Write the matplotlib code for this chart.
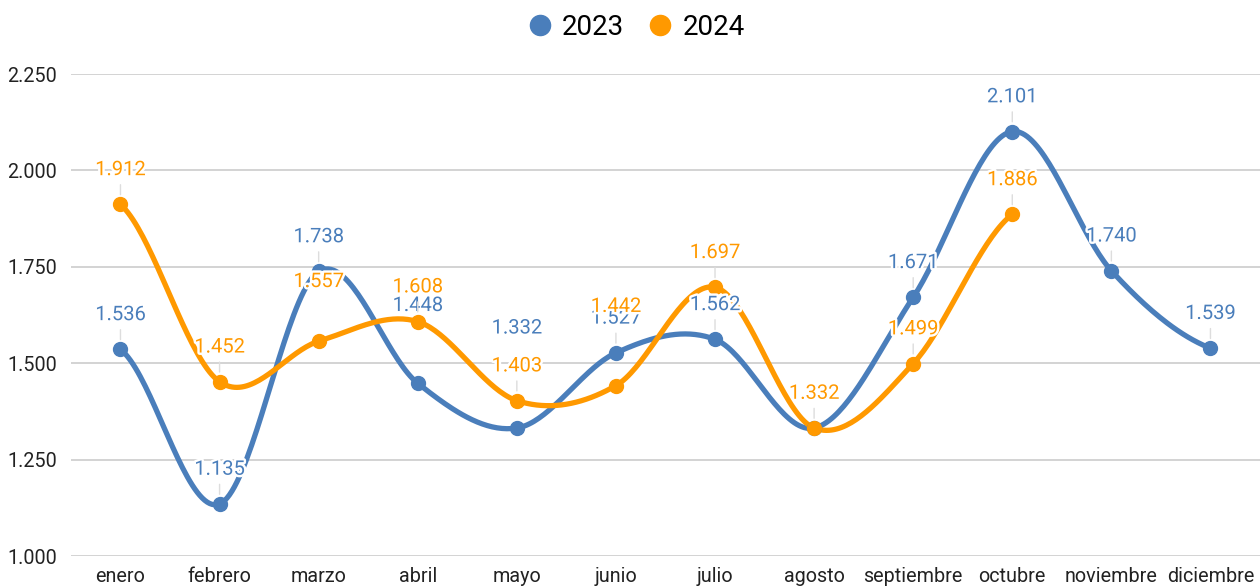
import numpy as np
import matplotlib.pyplot as plt
import matplotlib.patheffects as pe
from matplotlib.lines import Line2D

plt.rcParams["font.family"] = ["Roboto", "DejaVu Sans"]

meses = ["enero", "febrero", "marzo", "abril", "mayo", "junio", "julio",
         "agosto", "septiembre", "octubre", "noviembre", "diciembre"]
valores_2023 = [1536, 1135, 1738, 1448, 1332, 1527, 1562, 1332, 1671, 2101, 1740, 1539]
valores_2024 = [1912, 1452, 1557, 1608, 1403, 1442, 1697, 1332, 1499, 1886]
y_ticks = [1000, 1250, 1500, 1750, 2000, 2250]

AZUL = "#4a7ebb"
NARANJA = "#ff9900"

# etiquetas que el grafico original desplaza para evitar solapes (offset en pt)
desplazadas = {("2023", 3): 56, ("2023", 4): 72, ("2024", 2): 43, ("2024", 5): 57}
ocultas = {("2023", 7)}


def catmull_rom(y, pasos=40):
	"""suaviza una serie con un spline Catmull-Rom (en espacio de indices)"""
	y = np.asarray(y, dtype=float)
	p = np.concatenate([[y[0]], y, [y[-1]]])
	xs, ys = [], []
	for i in range(len(y) - 1):
		p0, p1, p2, p3 = p[i], p[i + 1], p[i + 2], p[i + 3]
		t = np.linspace(0, 1, pasos, endpoint=(i == len(y) - 2))
		yy = 0.5 * ((2 * p1) + (-p0 + p2) * t + (2 * p0 - 5 * p1 + 4 * p2 - p3) * t ** 2
		            + (-p0 + 3 * p1 - 3 * p2 + p3) * t ** 3)
		xs.append(i + t)
		ys.append(yy)
	return np.concatenate(xs), np.concatenate(ys)


def fmt(v):
	return "{:,}".format(int(v)).replace(",", ".")


fig = plt.figure(figsize=(12.6, 5.88), dpi=100)
ax = fig.add_axes([0.0563, 0.0544, 0.9437, 0.8196])

series = (("2023", valores_2023, AZUL), ("2024", valores_2024, NARANJA))

for nombre, serie, color in series:
	xs, ys = catmull_rom(serie)
	ax.plot(xs, ys, color=color, lw=3.8, solid_capstyle="round", zorder=3)
	ax.plot(range(len(serie)), serie, "o", color=color, ms=10, zorder=4)

halo = [pe.withStroke(linewidth=3.5, foreground="white")]
for nombre, serie, color in series:
	for i, v in enumerate(serie):
		if (nombre, i) in ocultas:
			continue
		dy = desplazadas.get((nombre, i), 25)
		flecha = None
		if (nombre, i) not in desplazadas:
			flecha = dict(arrowstyle="-", color="#dddddd", lw=1, shrinkA=2, shrinkB=7)
		ax.annotate(fmt(v), xy=(i, v), xytext=(0, dy), textcoords="offset points",
		            ha="center", va="center", fontsize=14.5, color=color,
		            path_effects=halo, zorder=6, arrowprops=flecha)

ax.set_xlim(-0.5, 11.5)
ax.set_ylim(1000, 2250)
ax.set_yticks(y_ticks)
ax.set_yticklabels([fmt(v) for v in y_ticks])
ax.set_xticks(range(len(meses)))
ax.set_xticklabels(meses)
ax.tick_params(axis="both", length=0, labelsize=14.2, colors="#222222")
ax.tick_params(axis="x", pad=8)
ax.tick_params(axis="y", pad=10)
ax.grid(axis="y", color="#cccccc", lw=1.2)
ax.set_axisbelow(True)
for s in ax.spines.values():
	s.set_visible(False)

handles = [Line2D([], [], marker="o", ls="", color=AZUL, ms=14.5),
           Line2D([], [], marker="o", ls="", color=NARANJA, ms=14.5)]
fig.legend(handles, ["2023", "2024"], loc="upper center", bbox_to_anchor=(0.5044, 1.019),
           ncol=2, frameon=False, fontsize=20, handlelength=1.0, handletextpad=0.3,
           columnspacing=0.8)

plt.savefig("out.png", dpi=100)
